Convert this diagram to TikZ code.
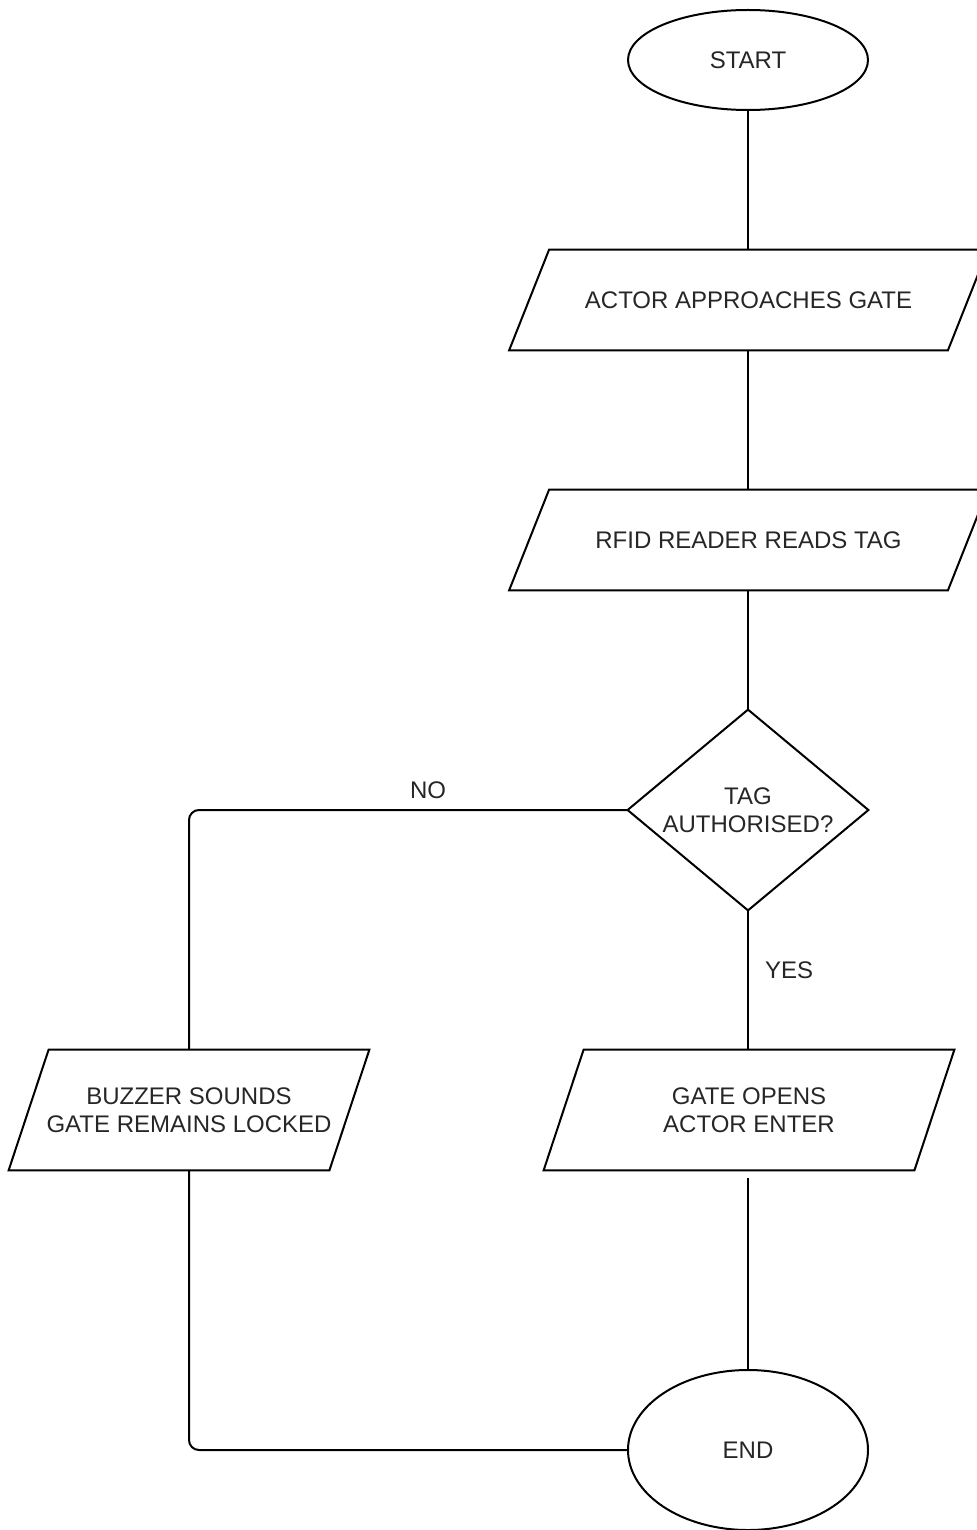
\documentclass[tikz,border=0pt]{standalone}
\usepackage{fontspec}
\setmainfont{Liberation Sans}
\usetikzlibrary{shapes.geometric,calc}
\begin{document}
\begin{tikzpicture}[x=0.5pt,y=-0.5pt,
  every node/.style={font=\fontsize{12pt}{14pt}\selectfont, text=black!85, align=center, inner sep=0pt},
  term/.style={ellipse, draw=black, line width=1pt, minimum width=120pt},
  box/.style={rectangle, draw=none, minimum height=50pt},
  conn/.style={draw=black, line width=1pt, rounded corners=5pt},
  lbl/.style={}
]
\useasboundingbox (0,0) rectangle (977,1530);

\node[term, minimum height=50pt] (start) at (748,60) {START};
\node[box, minimum width=239pt] (actor) at (748.5,300) {ACTOR APPROACHES GATE};
\node[box, minimum width=239pt] (rfid) at (748.5,540) {RFID READER READS TAG};
\node[rectangle, minimum width=120pt, minimum height=100pt] (dec) at (748,810) {TAG\\AUTHORISED?};
\node[box, minimum width=180pt, minimum height=60pt] (buzz) at (189,1110) {BUZZER SOUNDS\\GATE REMAINS LOCKED};
\node[box, minimum width=205pt, minimum height=60pt] (gate) at (749,1110) {GATE OPENS\\ACTOR ENTER};
\node[term, minimum height=80pt] (end) at (748,1450) {END};

% parallelograms
\foreach \n in {actor,rfid,buzz,gate}{
  \draw[line width=1pt, line join=miter] ($(\n.north west)+(40,0)$) -- (\n.north east) -- ($(\n.south east)+(-40,0)$) -- (\n.south west) -- cycle;
}
% diamond
\draw[line width=1pt] (dec.north) -- (dec.east) -- (dec.south) -- (dec.west) -- cycle;

% connectors
\draw[conn] (start.south) -- (start.south |- actor.north);
\draw[conn] (actor.south -| start.south) -- (rfid.north -| start.south);
\draw[conn] (rfid.south -| start.south) -- (dec.north);
\draw[conn] (dec.west) -| (buzz.north);
\draw[conn] (dec.south) -- (dec.south |- gate.north);
\draw[conn, shorten <=4pt] (gate.south -| end.north) -- (end.north);
\draw[conn] (buzz.south) |- (end.west);

\node[lbl] (no) at (428,790) {NO};
\node[lbl] (yes) at (789,970) {YES};
\end{tikzpicture}
\end{document}
